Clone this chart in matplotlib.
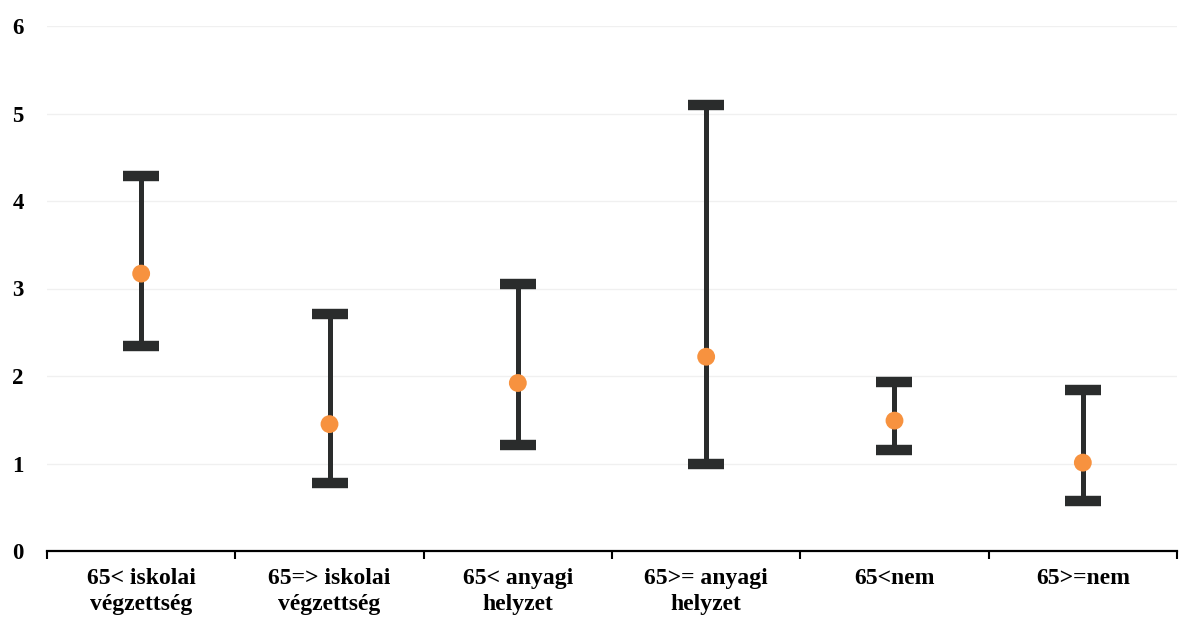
import matplotlib.pyplot as plt
import numpy as np

plt.rcParams['font.family'] = ['Liberation Serif', 'DejaVu Serif']

categories = ["65< iskolai\nvégzettség", "65=> iskolai\nvégzettség", "65< anyagi\nhelyzet",
              "65>= anyagi\nhelyzet", "65<nem", "65>=nem"]
means = [3.17, 1.45, 1.92, 2.22, 1.49, 1.01]
lower = [2.34, 0.78, 1.21, 0.99, 1.15, 0.57]
upper = [4.29, 2.71, 3.05, 5.10, 1.93, 1.84]
yticks = [0, 1, 2, 3, 4, 5, 6]

fig = plt.figure(figsize=(11.98, 6.28), dpi=100)
ax = fig.add_axes([47 / 1198, 77 / 628, 1130 / 1198, 525 / 628])

x = np.arange(len(categories))
means_a = np.array(means)
yerr = np.vstack([means_a - np.array(lower), np.array(upper) - means_a])

ax.errorbar(x, means, yerr=yerr, fmt='none', ecolor='#2a2c2c', elinewidth=3.6,
            capsize=13, capthick=7.5, zorder=2)
ax.scatter(x, means, s=165, color='#f7923f', edgecolor='none', zorder=3)

ax.set_xlim(-0.5, len(categories) - 0.5)
ax.set_ylim(0, 6)
ax.set_yticks(yticks)
ax.set_yticklabels([str(t) for t in yticks], fontsize=16.5, fontweight='bold')
ax.tick_params(axis='y', length=0, pad=25)
for lbl in ax.get_yticklabels():
    lbl.set_horizontalalignment('left')

ax.grid(axis='y', color='#f0f0f0', linewidth=1.0)
ax.set_axisbelow(True)

ax.set_xticks(np.arange(-0.5, len(categories), 1.0))
ax.set_xticklabels([])
ax.set_xticks(x, minor=True)
ax.set_xticklabels(categories, minor=True, fontsize=17, fontweight='bold', linespacing=1.35)
ax.tick_params(axis='x', which='major', direction='out', length=6, width=1.5, color='black')
ax.tick_params(axis='x', which='minor', length=0, pad=12)

for side in ['top', 'right', 'left']:
    ax.spines[side].set_visible(False)
ax.spines['bottom'].set_linewidth(1.6)
ax.spines['bottom'].set_color('black')

fig.savefig('out.png', dpi=100, facecolor='white')
